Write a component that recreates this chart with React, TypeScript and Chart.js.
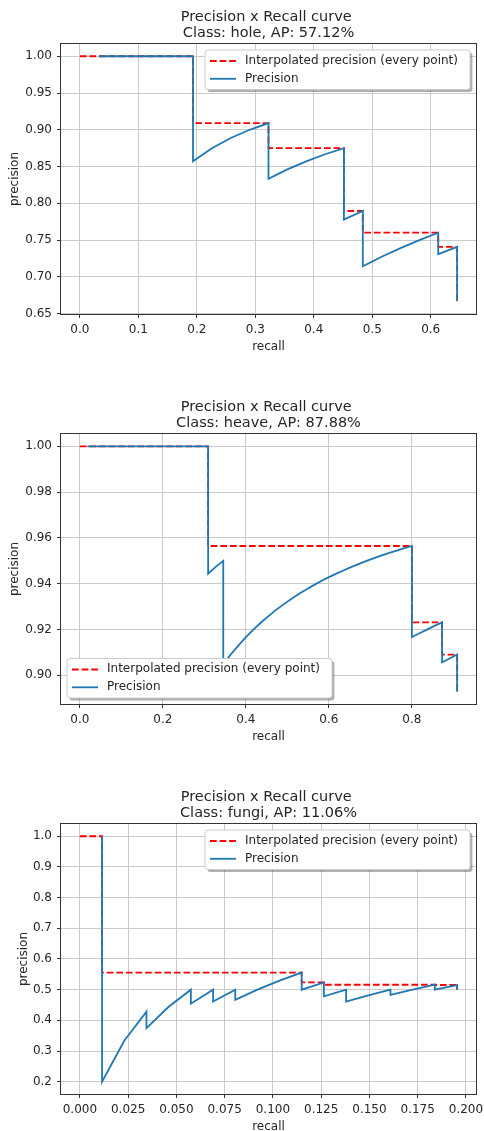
import React, { useEffect, useRef } from "react";
import { Chart, registerables } from "chart.js";

Chart.register(...registerables);

const FONT = "'DejaVu Sans', 'Liberation Sans', sans-serif";
const TEXT = "#262626";
const GRID = "#cbcbcb";
const SPINE = "#333333";

// ---------- Class: hole ----------
const holeRecall = [0.0323, 0.0645, 0.0968, 0.129, 0.1613, 0.1935, 0.1935, 0.2258, 0.2581, 0.2903, 0.3226, 0.3226, 0.3548, 0.3871, 0.4194, 0.4516, 0.4516, 0.4516, 0.4839, 0.4839, 0.4839, 0.5161, 0.5484, 0.5806, 0.6129, 0.6129, 0.6452, 0.6452, 0.6452, 0.6452];
const holePrecision = [1, 1, 1, 1, 1, 1, 0.8571, 0.875, 0.8889, 0.9, 0.9091, 0.8333, 0.8462, 0.8571, 0.8667, 0.875, 0.8235, 0.7778, 0.7895, 0.75, 0.7143, 0.7273, 0.7391, 0.75, 0.76, 0.7308, 0.7407, 0.7143, 0.6897, 0.6667];
const holeInterpRecall = [0, 0.1935, 0.1935, 0.3226, 0.3226, 0.4516, 0.4516, 0.4839, 0.4839, 0.6129, 0.6129, 0.6452, 0.6452];
const holeInterpPrecision = [1, 1, 0.9091, 0.9091, 0.875, 0.875, 0.7895, 0.7895, 0.76, 0.76, 0.7407, 0.7407, 0.6667];
const holeXTicks = [0, 0.1, 0.2, 0.3, 0.4, 0.5, 0.6];
const holeYTicks = [0.65, 0.7, 0.75, 0.8, 0.85, 0.9, 0.95, 1.0];

// ---------- Class: heave ----------
const heaveRecall = [0.0182, 0.0364, 0.0545, 0.0727, 0.0909, 0.1091, 0.1273, 0.1455, 0.1636, 0.1818, 0.2, 0.2182, 0.2364, 0.2545, 0.2727, 0.2909, 0.3091, 0.3091, 0.3273, 0.3455, 0.3455, 0.3636, 0.3818, 0.4, 0.4182, 0.4364, 0.4545, 0.4727, 0.4909, 0.5091, 0.5273, 0.5455, 0.5636, 0.5818, 0.6, 0.6182, 0.6364, 0.6545, 0.6727, 0.6909, 0.7091, 0.7273, 0.7455, 0.7636, 0.7818, 0.8, 0.8, 0.8, 0.8182, 0.8364, 0.8545, 0.8727, 0.8727, 0.8909, 0.9091, 0.9091];
const heavePrecision = [1, 1, 1, 1, 1, 1, 1, 1, 1, 1, 1, 1, 1, 1, 1, 1, 1, 0.9444, 0.9474, 0.95, 0.9048, 0.9091, 0.913, 0.9167, 0.92, 0.9231, 0.9259, 0.9286, 0.931, 0.9333, 0.9355, 0.9375, 0.9394, 0.9412, 0.9429, 0.9444, 0.9459, 0.9474, 0.9487, 0.95, 0.9512, 0.9524, 0.9535, 0.9545, 0.9556, 0.9565, 0.9362, 0.9167, 0.9184, 0.92, 0.9216, 0.9231, 0.9057, 0.9074, 0.9091, 0.8929];
const heaveInterpRecall = [0, 0.3091, 0.3091, 0.8, 0.8, 0.8727, 0.8727, 0.9091, 0.9091];
const heaveInterpPrecision = [1, 1, 0.9565, 0.9565, 0.9231, 0.9231, 0.9091, 0.9091, 0.8929];
const heaveXTicks = [0, 0.2, 0.4, 0.6, 0.8];
const heaveYTicks = [0.9, 0.92, 0.94, 0.96, 0.98, 1.0];

// ---------- Class: fungi ----------
const fungiRecall = [0.0115, 0.0115, 0.0115, 0.0115, 0.0115, 0.023, 0.0345, 0.0345, 0.046, 0.0575, 0.0575, 0.069, 0.069, 0.0805, 0.0805, 0.092, 0.1034, 0.1149, 0.1149, 0.1149, 0.1264, 0.1264, 0.1264, 0.1379, 0.1379, 0.1379, 0.1494, 0.1609, 0.1609, 0.1724, 0.1839, 0.1839, 0.1954, 0.1954];
const fungiPrecision = [1, 0.5, 0.3333, 0.25, 0.2, 0.3333, 0.4286, 0.375, 0.4444, 0.5, 0.4545, 0.5, 0.4615, 0.5, 0.4667, 0.5, 0.5294, 0.5556, 0.5263, 0.5, 0.5238, 0.5, 0.4783, 0.5, 0.48, 0.4615, 0.4815, 0.5, 0.4828, 0.5, 0.5161, 0.5, 0.5152, 0.5];
const fungiInterpRecall = [0, 0.0115, 0.0115, 0.1149, 0.1149, 0.1264, 0.1264, 0.1839, 0.1839, 0.1954, 0.1954];
const fungiInterpPrecision = [1, 1, 0.5556, 0.5556, 0.5238, 0.5238, 0.5161, 0.5161, 0.5152, 0.5152, 0.5];
const fungiXTicks = [0, 0.025, 0.05, 0.075, 0.1, 0.125, 0.15, 0.175, 0.2];
const fungiYTicks = [0.2, 0.3, 0.4, 0.5, 0.6, 0.7, 0.8, 0.9, 1.0];

const titleLine1 = "Precision x Recall curve ";
const interpLabel = "Interpolated precision (every point)";
const precisionLabel = "Precision";

type LegendPos = "upper right" | "lower left";

interface PRSpec {
  className: string;
  ap: string;
  recall: number[];
  precision: number[];
  interpRecall: number[];
  interpPrecision: number[];
  xTicks: number[];
  yTicks: number[];
  xDigits: number;
  yDigits: number;
  xRange: [number, number];
  yRange: [number, number];
  legendPos: LegendPos;
  yTitlePad: number;
}

const specs: PRSpec[] = [
  {
    className: "hole", ap: "57.12%",
    recall: holeRecall, precision: holePrecision,
    interpRecall: holeInterpRecall, interpPrecision: holeInterpPrecision,
    xTicks: holeXTicks, yTicks: holeYTicks, xDigits: 1, yDigits: 2,
    xRange: [-0.0323, 0.6775], yRange: [0.6494, 1.0167],
    legendPos: "upper right", yTitlePad: 7.5,
  },
  {
    className: "heave", ap: "87.88%",
    recall: heaveRecall, precision: heavePrecision,
    interpRecall: heaveInterpRecall, interpPrecision: heaveInterpPrecision,
    xTicks: heaveXTicks, yTicks: heaveYTicks, xDigits: 1, yDigits: 2,
    xRange: [-0.04545, 0.9545], yRange: [0.8875, 1.0054],
    legendPos: "lower left", yTitlePad: 7.5,
  },
  {
    className: "fungi", ap: "11.06%",
    recall: fungiRecall, precision: fungiPrecision,
    interpRecall: fungiInterpRecall, interpPrecision: fungiInterpPrecision,
    xTicks: fungiXTicks, yTicks: fungiYTicks, xDigits: 3, yDigits: 1,
    xRange: [-0.00977, 0.2052], yRange: [0.16, 1.04],
    legendPos: "upper right", yTitlePad: 16.5,
  },
];

const CANVAS_W = 484;
const CANVAS_H = 390;

function roundRectPath(ctx: CanvasRenderingContext2D, x: number, y: number, w: number, h: number, r: number) {
  ctx.beginPath();
  ctx.moveTo(x + r, y);
  ctx.lineTo(x + w - r, y);
  ctx.arcTo(x + w, y, x + w, y + r, r);
  ctx.lineTo(x + w, y + h - r);
  ctx.arcTo(x + w, y + h, x + w - r, y + h, r);
  ctx.lineTo(x + r, y + h);
  ctx.arcTo(x, y + h, x, y + h - r, r);
  ctx.lineTo(x, y + r);
  ctx.arcTo(x, y, x + r, y, r);
  ctx.closePath();
}

const framePlugin = {
  id: "prFrame",
  afterDatasetsDraw(chart: any) {
    const { ctx, chartArea: a } = chart;
    ctx.save();
    ctx.strokeStyle = SPINE;
    ctx.lineWidth = 1;
    ctx.setLineDash([]);
    ctx.strokeRect(Math.round(a.left) - 0.5, Math.round(a.top) - 0.5, Math.round(a.right - a.left) + 1, Math.round(a.bottom - a.top) + 1);
    ctx.restore();
  },
};

function makeLegendPlugin(pos: LegendPos) {
  return {
    id: "prLegend",
    afterDraw(chart: any) {
      const { ctx, chartArea: a } = chart;
      const bw = 265;
      const bh = 39.5;
      const inset = 6;
      const bx = pos === "upper right" ? a.right - inset - bw : a.left + inset;
      const by = pos === "upper right" ? a.top + inset : a.bottom - inset - bh;
      ctx.save();
      roundRectPath(ctx, bx + 2.4, by + 2.4, bw, bh, 3);
      ctx.fillStyle = "rgba(77,77,77,0.45)";
      ctx.fill();
      roundRectPath(ctx, bx, by, bw, bh, 3);
      ctx.fillStyle = "#ffffff";
      ctx.fill();
      ctx.strokeStyle = "#cccccc";
      ctx.lineWidth = 1;
      ctx.stroke();
      const rows = [by + 11, by + 28.8];
      chart.data.datasets.forEach((ds: any, i: number) => {
        const y = rows[i];
        ctx.beginPath();
        ctx.setLineDash(ds.borderDash || []);
        ctx.strokeStyle = ds.borderColor;
        ctx.lineWidth = ds.borderWidth;
        ctx.moveTo(bx + 5, y);
        ctx.lineTo(bx + 31, y);
        ctx.stroke();
        ctx.setLineDash([]);
        ctx.fillStyle = TEXT;
        ctx.font = `12px ${FONT}`;
        ctx.textAlign = "left";
        ctx.textBaseline = "middle";
        ctx.fillText(ds.label, bx + 40, y - 0.3);
      });
      ctx.restore();
    },
  };
}

function PRChart({ spec }: { spec: PRSpec }) {
  const ref = useRef<HTMLCanvasElement | null>(null);

  useEffect(() => {
    const canvas = ref.current;
    if (!canvas) return;
    const toPts = (xs: number[], ys: number[]) => xs.map((x, i) => ({ x, y: ys[i] }));

    const gridOpts = {
      display: true,
      drawOnChartArea: true,
      drawTicks: true,
      color: GRID,
      lineWidth: 1,
      tickColor: SPINE,
      tickLength: 4,
      tickWidth: 1,
    };

    const chart = new Chart(canvas, {
      type: "scatter",
      data: {
        datasets: [
          {
            label: interpLabel,
            data: toPts(spec.interpRecall, spec.interpPrecision),
            showLine: true,
            borderColor: "#ff0000",
            backgroundColor: "#ff0000",
            borderWidth: 1.8,
            borderDash: [6.7, 2.9],
            pointRadius: 0,
            pointHoverRadius: 0,
            tension: 0,
            fill: false,
            order: 1,
          },
          {
            label: precisionLabel,
            data: toPts(spec.recall, spec.precision),
            showLine: true,
            borderColor: "#1f77b4",
            backgroundColor: "#1f77b4",
            borderWidth: 1.8,
            pointRadius: 0,
            pointHoverRadius: 0,
            tension: 0,
            fill: false,
            order: 0,
          },
        ],
      },
      options: {
        animation: false,
        responsive: false,
        maintainAspectRatio: false,
        events: [],
        layout: { padding: { left: 0, right: 8, top: 0, bottom: CANVAS_H - 314 - 44 } },
        plugins: {
          legend: { display: false },
          tooltip: { enabled: false },
          title: {
            display: true,
            fullSize: false,
            text: [titleLine1, `Class: ${spec.className}, AP: ${spec.ap}`],
            color: TEXT,
            font: { family: FONT, size: 14.5, weight: "normal", lineHeight: 1.124 },
            padding: { top: 9.25, bottom: 2.15 },
          },
        },
        scales: {
          x: {
            type: "linear",
            position: "bottom",
            min: spec.xRange[0],
            max: spec.xRange[1],
            afterBuildTicks: (s: any) => {
              s.ticks = spec.xTicks.map((v) => ({ value: v }));
            },
            afterFit: (s: any) => {
              s.height = 44;
              s.paddingLeft = 0;
              s.paddingRight = 0;
            },
            ticks: {
              autoSkip: false,
              maxRotation: 0,
              minRotation: 0,
              padding: 5,
              color: TEXT,
              font: { family: FONT, size: 12 },
              callback: (v: any) => Number(v).toFixed(spec.xDigits),
            },
            grid: gridOpts,
            border: { display: false },
            title: {
              display: true,
              text: "recall",
              color: TEXT,
              font: { family: FONT, size: 12 },
              padding: { top: 0, bottom: 4.4 },
            },
          },
          y: {
            type: "linear",
            position: "left",
            min: spec.yRange[0],
            max: spec.yRange[1],
            afterBuildTicks: (s: any) => {
              s.ticks = spec.yTicks.map((v) => ({ value: v }));
            },
            afterFit: (s: any) => {
              s.width = 61;
              s.paddingTop = 0;
              s.paddingBottom = 0;
            },
            ticks: {
              autoSkip: false,
              padding: 5,
              color: TEXT,
              font: { family: FONT, size: 12 },
              callback: (v: any) => Number(v).toFixed(spec.yDigits),
            },
            grid: gridOpts,
            border: { display: false },
            title: {
              display: true,
              text: "precision",
              color: TEXT,
              font: { family: FONT, size: 12 },
              padding: { top: spec.yTitlePad, bottom: 0 },
            },
          },
        },
      },
      plugins: [framePlugin, makeLegendPlugin(spec.legendPos)],
    } as any);

    return () => chart.destroy();
  }, [spec]);

  return (
    <canvas
      ref={ref}
      width={CANVAS_W}
      height={CANVAS_H}
      style={{ display: "block", width: `${CANVAS_W}px`, height: `${CANVAS_H}px` }}
    />
  );
}

export default function App() {
  return (
    <div
      style={{
        position: "absolute",
        left: 0,
        top: 0,
        width: `${CANVAS_W}px`,
        height: "1131px",
        overflow: "hidden",
        background: "#ffffff",
      }}
    >
      {specs.map((s, i) => (
        <div key={s.className} style={{ position: "absolute", left: 0, top: `${i * CANVAS_H}px` }}>
          <PRChart spec={s} />
        </div>
      ))}
    </div>
  );
}
